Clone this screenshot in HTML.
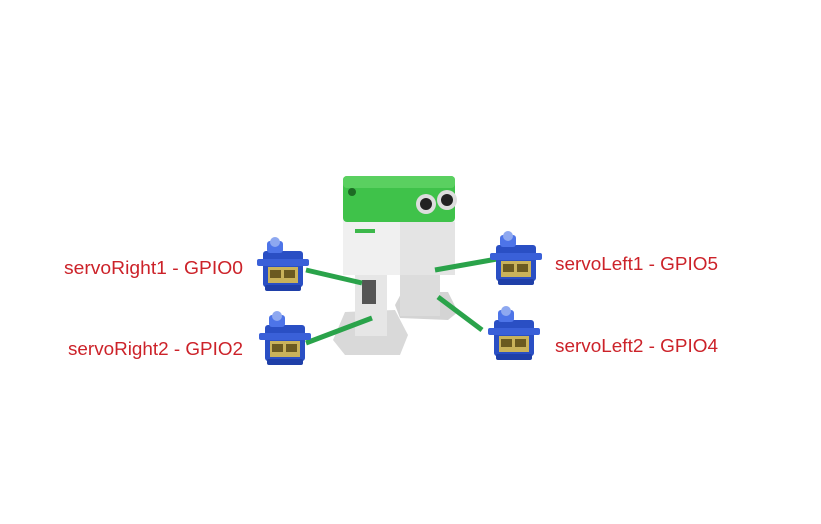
<!DOCTYPE html>
<html><head><style>
body{margin:0;background:#fff;width:821px;height:519px;overflow:hidden;font-family:"Liberation Sans",sans-serif}
</style></head><body>
<svg width="821" height="519" xmlns="http://www.w3.org/2000/svg">
<defs>
<g id="servo">
<rect x="6" y="14" width="40" height="36" rx="3" fill="#2a4fc4"/>
<rect x="0" y="22" width="52" height="7" rx="2" fill="#3a60d8"/>
<rect x="10" y="4" width="16" height="12" rx="3" fill="#4d74e8"/>
<circle cx="18" cy="5" r="5" fill="#8ea8f0"/>
<rect x="11" y="30" width="30" height="16" fill="#c9b25a"/>
<rect x="13" y="33" width="11" height="8" fill="#6b5a20"/>
<rect x="27" y="33" width="11" height="8" fill="#6b5a20"/>
<rect x="8" y="48" width="36" height="6" rx="2" fill="#1f3fa8"/>
</g>
</defs>
<polygon points="333,340 345,312 395,310 408,335 400,355 345,355" fill="#d9d9d9"/>
<polygon points="395,305 402,292 448,292 458,312 448,320 400,318" fill="#d4d4d4"/>
<rect x="355" y="268" width="32" height="68" fill="#e6e6e6"/>
<rect x="362" y="280" width="14" height="24" fill="#555"/>
<rect x="400" y="268" width="40" height="48" fill="#dcdcdc"/>
<rect x="343" y="220" width="112" height="55" fill="#f0f0f0"/>
<rect x="400" y="222" width="55" height="53" fill="#e4e4e4"/>
<rect x="355" y="229" width="20" height="4" fill="#3cb84a"/>
<rect x="343" y="176" width="112" height="46" rx="4" fill="#3fc24a"/>
<rect x="343" y="176" width="112" height="12" rx="4" fill="#5ad060"/>
<circle cx="352" cy="192" r="4" fill="#1d6a24"/>
<circle cx="426" cy="204" r="10" fill="#ddd"/><circle cx="426" cy="204" r="6" fill="#222"/>
<circle cx="447" cy="200" r="10" fill="#ddd"/><circle cx="447" cy="200" r="6" fill="#222"/>
<g stroke="#2aa34a" stroke-width="5" stroke-linecap="butt">
<line x1="306" y1="270" x2="362" y2="283"/>
<line x1="306" y1="343" x2="372" y2="318"/>
<line x1="435" y1="270" x2="497" y2="259"/>
<line x1="438" y1="297" x2="482" y2="330"/>
</g>
<use href="#servo" x="257" y="237"/>
<use href="#servo" x="259" y="311"/>
<use href="#servo" x="490" y="231"/>
<use href="#servo" x="488" y="306"/>
<g fill="#cc2229" font-size="18" font-family="Liberation Sans, sans-serif">
<text x="64" y="274" textLength="179" lengthAdjust="spacingAndGlyphs">servoRight1 - GPIO0</text>
<text x="68" y="355" textLength="175" lengthAdjust="spacingAndGlyphs">servoRight2 - GPIO2</text>
<text x="555" y="270" textLength="163" lengthAdjust="spacingAndGlyphs">servoLeft1 - GPIO5</text>
<text x="555" y="352" textLength="163" lengthAdjust="spacingAndGlyphs">servoLeft2 - GPIO4</text>
</g>
</svg>
</body></html>
